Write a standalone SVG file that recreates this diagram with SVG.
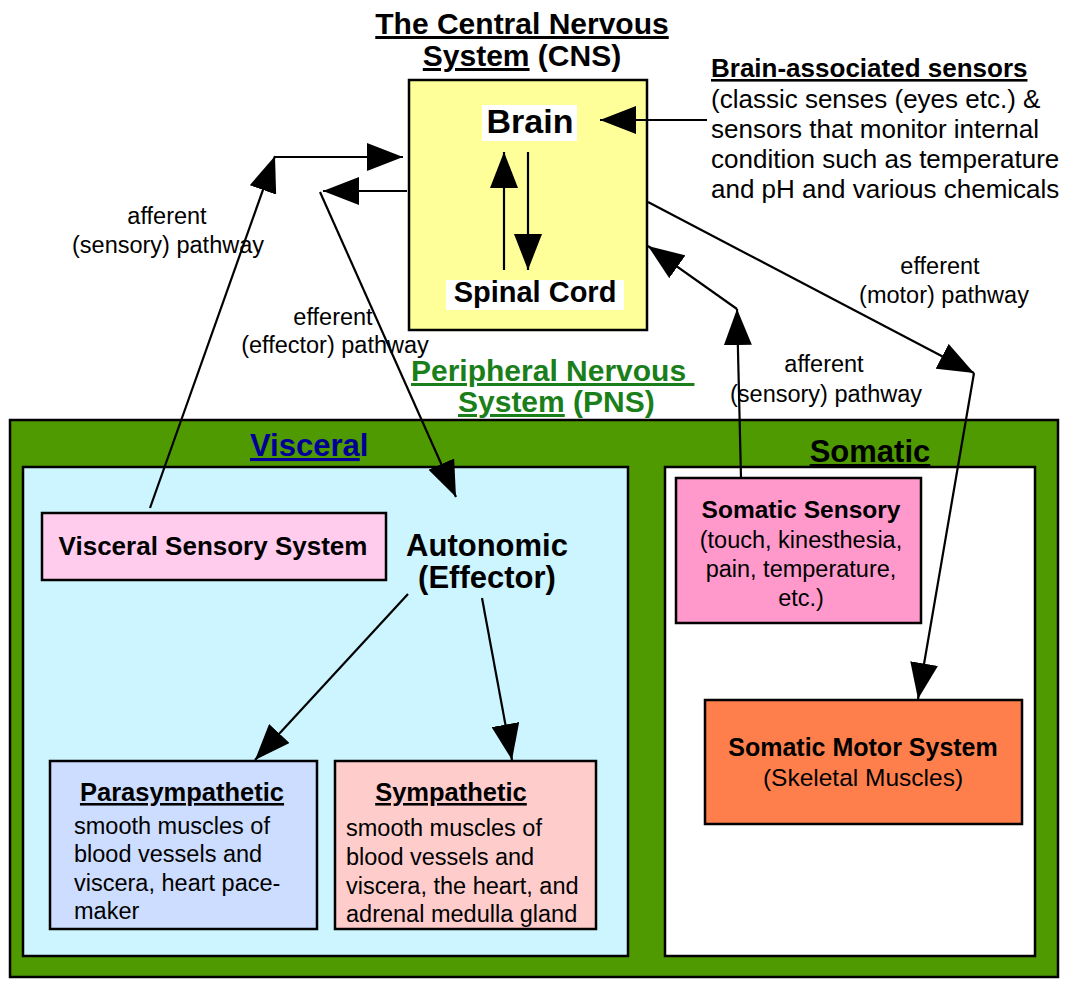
<svg xmlns="http://www.w3.org/2000/svg" width="1065" height="982" viewBox="0 0 1065 982">
<style>
text{font-family:"Liberation Sans",Arial,sans-serif;fill:#000}
.b{font-weight:bold}
.u{text-decoration:underline}
.box{stroke:#000;stroke-width:2.5}
.lbl{font-size:23.5px;text-anchor:middle}
.body{font-size:23.5px}
.c{stroke:#000;stroke-width:2.2;fill:none;marker-end:url(#ah)}
</style>
<defs>
<marker id="ah" markerUnits="userSpaceOnUse" markerWidth="36" markerHeight="28" refX="36" refY="14" orient="auto" viewBox="0 0 36 28">
<path d="M0,0 L36,14 L0,28 z" fill="#000"/>
</marker>
</defs>
<rect width="1065" height="982" fill="#fff"/>

<g id="pns">
<rect class="box" x="10" y="420" width="1048" height="557" fill="#4E9A00"/>
<text class="b" x="411" y="381" font-size="30" style="fill:#1A7F1A" xml:space="preserve"><tspan class="u">Peripheral Nervous </tspan></text>
<text class="b" x="458" y="412" font-size="30" style="fill:#1A7F1A"><tspan class="u">System</tspan> (PNS)</text>
</g>

<g id="visceral">
<rect class="box" x="23" y="467" width="605" height="489" fill="#CCF5FF"/>
<text class="b" x="250" y="456" font-size="31" style="fill:#000099"><tspan class="u">Viscera</tspan>l</text>
</g>

<g id="somatic">
<rect class="box" x="665" y="467" width="370" height="489" fill="#fff"/>
<text class="b u" x="870" y="462" font-size="31" text-anchor="middle">Somatic</text>
</g>

<g id="cns">
<text class="b" x="522" y="34" font-size="30" text-anchor="middle"><tspan class="u">The Central Nervous</tspan></text>
<text class="b" x="522" y="66" font-size="30" text-anchor="middle"><tspan class="u">System</tspan> (CNS)</text>
<rect class="box" x="409" y="80" width="238" height="250" fill="#FFFF99"/>
</g>

<g id="brain">
<rect x="482" y="105" width="95" height="36" fill="#fff"/>
<text class="b" x="530" y="133" font-size="34" text-anchor="middle">Brain</text>
</g>

<g id="spinal-cord">
<rect x="446" y="280" width="178" height="30" fill="#fff"/>
<text class="b" x="535" y="302" font-size="29" text-anchor="middle">Spinal Cord</text>
</g>

<g id="brain-sensors">
<text class="b u" x="711" y="77" font-size="26">Brain-associated sensors</text>
<text x="711" y="108" font-size="26">(classic senses (eyes etc.) &amp;</text>
<text x="711" y="138" font-size="26">sensors that monitor internal</text>
<text x="711" y="168" font-size="26">condition such as temperature</text>
<text x="711" y="198" font-size="26">and pH and various chemicals</text>
</g>

<g id="visceral-sensory">
<rect class="box" x="42" y="513" width="344" height="67" fill="#FFCCEE"/>
<text class="b" x="213" y="555" font-size="26" text-anchor="middle">Visceral Sensory System</text>
</g>

<g id="autonomic">
<text class="b" x="487" y="556" font-size="31" text-anchor="middle">Autonomic</text>
<text class="b" x="487" y="588" font-size="31" text-anchor="middle">(Effector)</text>
</g>

<g id="parasympathetic">
<rect class="box" x="50" y="761" width="267" height="168" fill="#CCDDFF"/>
<text class="b u" x="182" y="801" font-size="25.5" text-anchor="middle">Parasympathetic</text>
<text class="body" x="74" y="834">smooth muscles of</text>
<text class="body" x="74" y="862">blood vessels and</text>
<text class="body" x="74" y="891">viscera, heart pace-</text>
<text class="body" x="74" y="919">maker</text>
</g>

<g id="sympathetic">
<rect class="box" x="335" y="761" width="261" height="168" fill="#FFCCCC"/>
<text class="b u" x="451" y="801" font-size="25.5" text-anchor="middle">Sympathetic</text>
<text class="body" x="346" y="836">smooth muscles of</text>
<text class="body" x="346" y="865">blood vessels and</text>
<text class="body" x="346" y="894">viscera, the heart, and</text>
<text class="body" x="346" y="922">adrenal medulla gland</text>
</g>

<g id="somatic-sensory">
<rect class="box" x="676" y="478" width="245" height="145" fill="#FF99CC"/>
<text class="b" x="801" y="518" font-size="24.5" text-anchor="middle">Somatic Sensory</text>
<text class="body" x="801" y="548" text-anchor="middle">(touch, kinesthesia,</text>
<text class="body" x="801" y="577" text-anchor="middle">pain, temperature,</text>
<text class="body" x="801" y="606" text-anchor="middle">etc.)</text>
</g>

<g id="somatic-motor">
<rect class="box" x="705" y="700" width="317" height="124" fill="#FF7F4C"/>
<text class="b" x="863" y="756" font-size="25" text-anchor="middle">Somatic Motor System</text>
<text x="863" y="786" font-size="24.5" text-anchor="middle">(Skeletal Muscles)</text>
</g>

<g id="connectors">
<line class="c" x1="504" y1="270" x2="504" y2="152"/>
<line class="c" x1="528" y1="152" x2="528" y2="270"/>
<line class="c" x1="707" y1="120" x2="600" y2="120"/>
<line class="c" x1="150" y1="508" x2="275" y2="156"/>
<line class="c" x1="275" y1="157" x2="403" y2="157"/>
<line class="c" x1="407" y1="191" x2="323" y2="191"/>
<line class="c" x1="320" y1="192" x2="456" y2="497"/>
<line class="c" x1="648" y1="202" x2="974" y2="373"/>
<line class="c" x1="974" y1="373" x2="918" y2="699"/>
<line class="c" x1="741" y1="478" x2="737" y2="309"/>
<line class="c" x1="737" y1="309" x2="648" y2="246"/>
<line class="c" x1="408" y1="594" x2="255" y2="760"/>
<line class="c" x1="482" y1="598" x2="512" y2="760"/>
</g>

<g id="labels">
<text class="lbl" x="167" y="224">afferent</text>
<text class="lbl" x="168" y="253">(sensory) pathway</text>
<text class="lbl" x="333" y="325">efferent</text>
<text class="lbl" x="335" y="353">(effector) pathway</text>
<text class="lbl" x="940" y="274">efferent</text>
<text class="lbl" x="944" y="303">(motor) pathway</text>
<text class="lbl" x="824" y="372">afferent</text>
<text class="lbl" x="826" y="402">(sensory) pathway</text>
</g>
</svg>
